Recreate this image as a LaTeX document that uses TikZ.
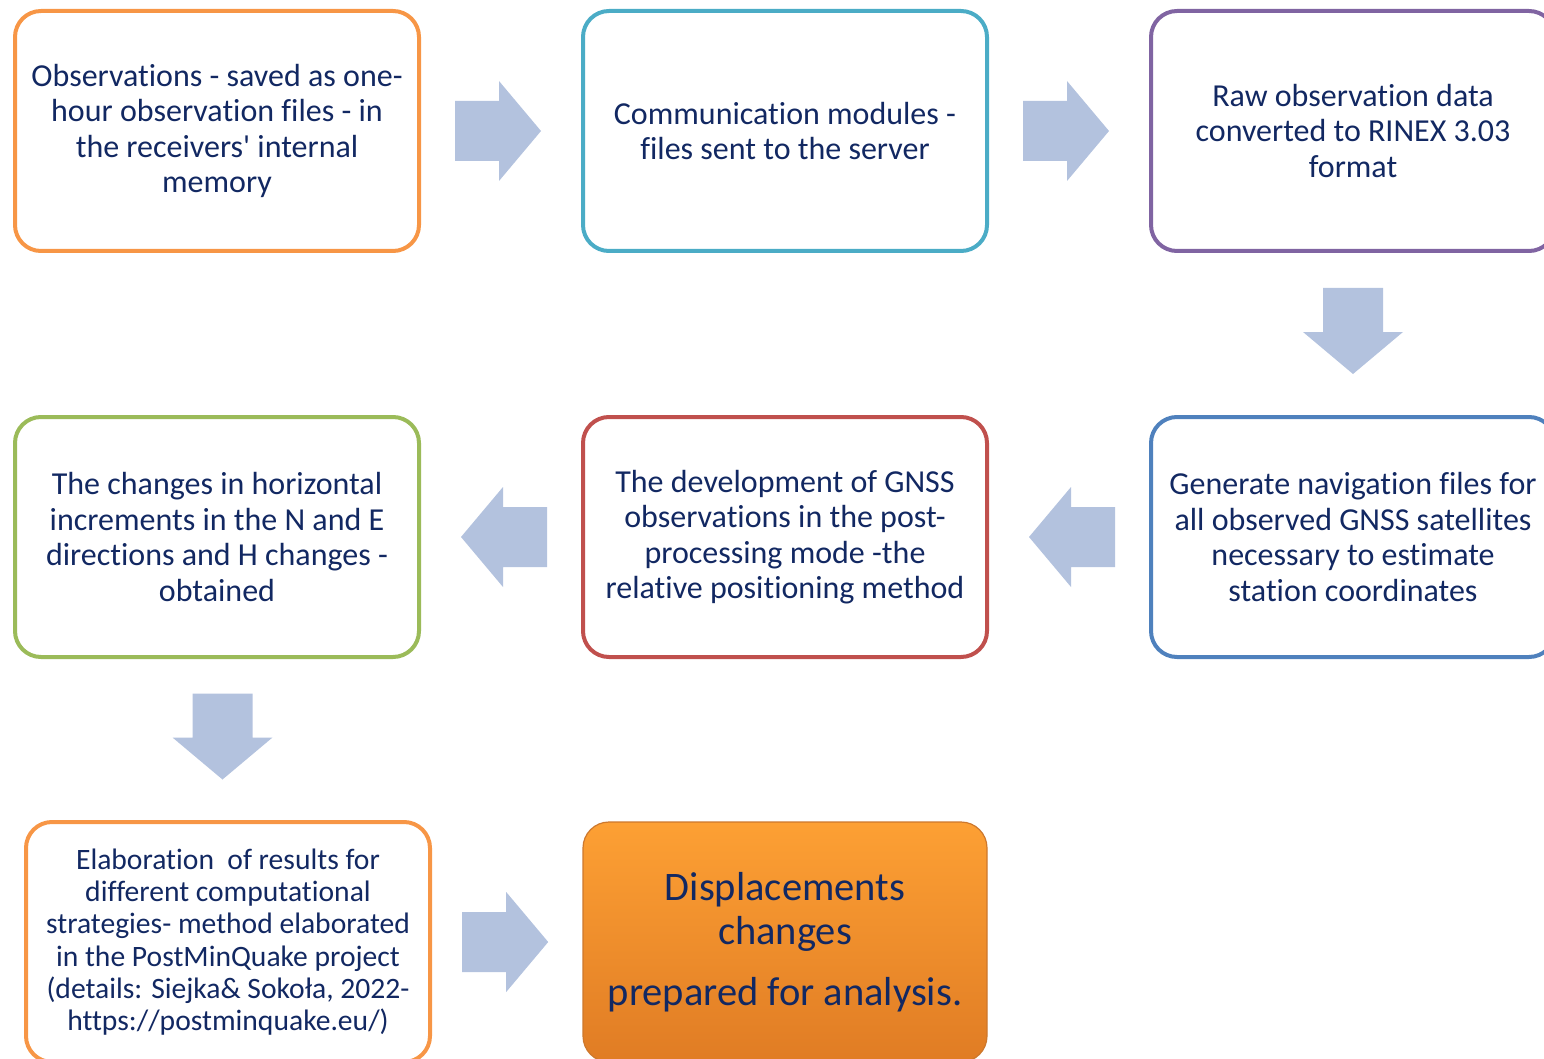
\documentclass[tikz,border=0pt]{standalone}
\usepackage{fontspec}
\setmainfont{Carlito}[Ligatures={NoCommon,TeXOff}]
\usetikzlibrary{calc}

\definecolor{txtblue}{RGB}{18,40,98}
\definecolor{cOrange}{RGB}{247,150,70}
\definecolor{cTeal}{RGB}{75,172,198}
\definecolor{cPurple}{RGB}{128,100,162}
\definecolor{cGreen}{RGB}{155,187,89}
\definecolor{cRed}{RGB}{192,80,77}
\definecolor{cBlue}{RGB}{79,129,189}
\definecolor{arrowfill}{RGB}{179,194,222}
\definecolor{fillTop}{RGB}{253,160,52}
\definecolor{fillBot}{RGB}{224,124,36}
\definecolor{fillEdge}{RGB}{205,120,45}

\tikzset{
  stepbox/.style={rectangle, rounded corners=26, line width=4,
    minimum width=404, minimum height=240, align=center,
    text=txtblue, inner sep=0pt,
    font=\fontsize{32}{35.5}\selectfont},
  smallbox/.style={stepbox, font=\fontsize{29.6}{32.3}\selectfont},
  resultbox/.style={stepbox, line width=1.2, draw=fillEdge,
    top color=fillTop, bottom color=fillBot,
    font=\fontsize{40.5}{44}\selectfont},
  blockarrow/.pic={
    \fill[arrowfill] (-43,-30) -- (1,-30) -- (1,-50) -- (43,0)
      -- (1,50) -- (1,30) -- (-43,30) -- cycle;
  }
}

\begin{document}
\begin{tikzpicture}[x=1pt, y=-1pt]
  \useasboundingbox (0,0) rectangle (1544,1059);
  \clip (0,0) rectangle (1544,1059);

  % first row
  \node[stepbox, draw=cOrange] (b1) at (217,131)
    {Observations - saved as one-\\hour observation files - in\\the receivers' internal\\memory};
  \node[stepbox, draw=cTeal] (b2) at (785,131)
    {Communication modules -\\files sent to the server};
  \node[stepbox, draw=cPurple] (b3) at (1353,131)
    {Raw observation data\\converted to RINEX 3.03\\format};

  % second row
  \node[stepbox, draw=cBlue] (b4) at (1353,537)
    {Generate navigation files for\\all observed GNSS satellites\\necessary to estimate\\station coordinates};
  \node[stepbox, draw=cRed] (b5) at (785,537)
    {The development of GNSS\\observations in the post-\\processing mode -the\\relative positioning method};
  \node[stepbox, draw=cGreen] (b6) at (217,537)
    {The changes in horizontal\\increments in the N and E\\directions and H changes -\\obtained};

  % third row
  \node[smallbox, draw=cOrange] (b7) at (228,942)
    {Elaboration\ \ of results for\\different computational\\strategies- method elaborated\\in the PostMinQuake project\\(details: Siejka\& Sokoła, 2022-\\https://postminquake.eu/)};
  \node[resultbox] (b8) at (785,942)
    {Displacements\\changes\\[17pt] prepared for analysis.};

  % block arrows between the steps
  \pic at ($(b1.east)!0.5!(b2.west)+(-3,0)$) {blockarrow};
  \pic at ($(b2.east)!0.5!(b3.west)+(-3,0)$) {blockarrow};
  \pic[rotate=-90] at ($(b3.south)!0.5!(b4.north)+(0,-3)$) {blockarrow};
  \pic[rotate=180] at ($(b4.west)!0.5!(b5.east)+(3,0)$) {blockarrow};
  \pic[rotate=180] at ($(b5.west)!0.5!(b6.east)+(3,0)$) {blockarrow};
  \pic[rotate=-90] at ($(b6.south)!0.5!(b7.north)+(0,-3)$) {blockarrow};
  \pic at ($(b7.east)!0.5!(b8.west)+(-2,0)$) {blockarrow};
\end{tikzpicture}
\end{document}
